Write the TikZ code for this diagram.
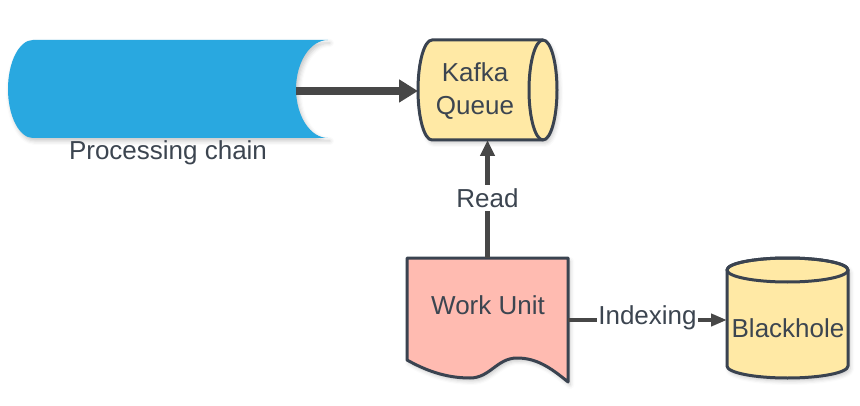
\documentclass[tikz,border=0pt]{standalone}
\usepackage{fontspec}
\setmainfont{Liberation Sans}
\usetikzlibrary{arrows.meta,shadows.blur}
\definecolor{txt}{HTML}{3C4550}
\definecolor{edge}{HTML}{3A4350}
\definecolor{arr}{HTML}{474747}
\definecolor{chain}{HTML}{29A8E0}
\definecolor{kafkafill}{HTML}{FFE9A5}
\definecolor{workfill}{HTML}{FFBBB1}
\begin{document}
\begin{tikzpicture}[x=1pt,y=1pt,
  box/.style={inner sep=0pt,outer sep=0pt,minimum width=#1},
  lbl/.style={text=txt,font=\fontsize{26}{33}\selectfont,inner sep=1pt},
  shapeline/.style={draw=edge,line width=3pt,line join=round},
  soft/.style={blur shadow={shadow xshift=2pt,shadow yshift=-3pt,shadow blur radius=4pt,shadow opacity=22}},
  conn/.style={draw=arr,line width=4.5pt},
]
\useasboundingbox (0,0) rectangle (860,405);
% anchor nodes (invisible frames)
\node[box=139pt,minimum height=100pt] (kafka) at (487.5,315) {};
\node[box=161pt,minimum height=124pt] (work) at (487.5,85) {};
\node[box=121pt,minimum height=120pt] (black) at (787.5,87) {};
\coordinate (chainR) at (296,314);
% processing chain
\fill[chain,soft] (33,365) arc[start angle=90,end angle=270,x radius=25,y radius=49]
  -- (328,267) arc[start angle=270,end angle=90,x radius=32,y radius=49] -- cycle;
\node[lbl] (chainlbl) at (168,252) {Processing chain};
% kafka queue
\path[shapeline,fill=kafkafill,soft] (432,365) -- (543,365)
  arc[start angle=90,end angle=-90,x radius=14,y radius=50]
  -- (432,265) arc[start angle=270,end angle=90,x radius=14,y radius=50] -- cycle;
\draw[shapeline] (543,365) arc[start angle=90,end angle=270,x radius=14,y radius=50];
\node[lbl,align=center] (kafkalbl) at (475,314) {Kafka\\Queue};
% work unit
\path[shapeline,fill=workfill,soft] (407,147) -- (568,147) -- (568,23)
  .. controls (550,38) and (536,47) .. (517,47)
  .. controls (497,47) and (490,27) .. (470,27)
  .. controls (445,27) and (425,35) .. (407,45) -- cycle;
\node[lbl] (worklbl) at (488,100) {Work Unit};
% blackhole
\path[shapeline,fill=kafkafill,soft] (727,135) -- (727,39)
  arc[start angle=180,end angle=360,x radius=60.5,y radius=12]
  -- (848,135) arc[start angle=0,end angle=180,x radius=60.5,y radius=12] -- cycle;
\draw[shapeline] (787.5,135) ellipse[x radius=60.5,y radius=12];
\node[lbl] (blacklbl) at (788,77) {Blackhole};
% connectors
\draw[draw=arr,line width=8pt,-{Triangle[length=19pt,width=22pt]}] (chainR) -- (kafka.west |- chainR);
\draw[conn,-{Triangle[length=16pt,width=14pt]}] (work.north) -- node[lbl,fill=white,inner sep=3pt,yshift=1pt]{Read} (kafka.south);
\draw[conn,-{Triangle[length=16pt,width=12pt]}] (work.east) -- node[lbl,fill=white,inner sep=1pt,yshift=2pt]{Indexing} (work.east -| black.west);
\end{tikzpicture}
\end{document}
